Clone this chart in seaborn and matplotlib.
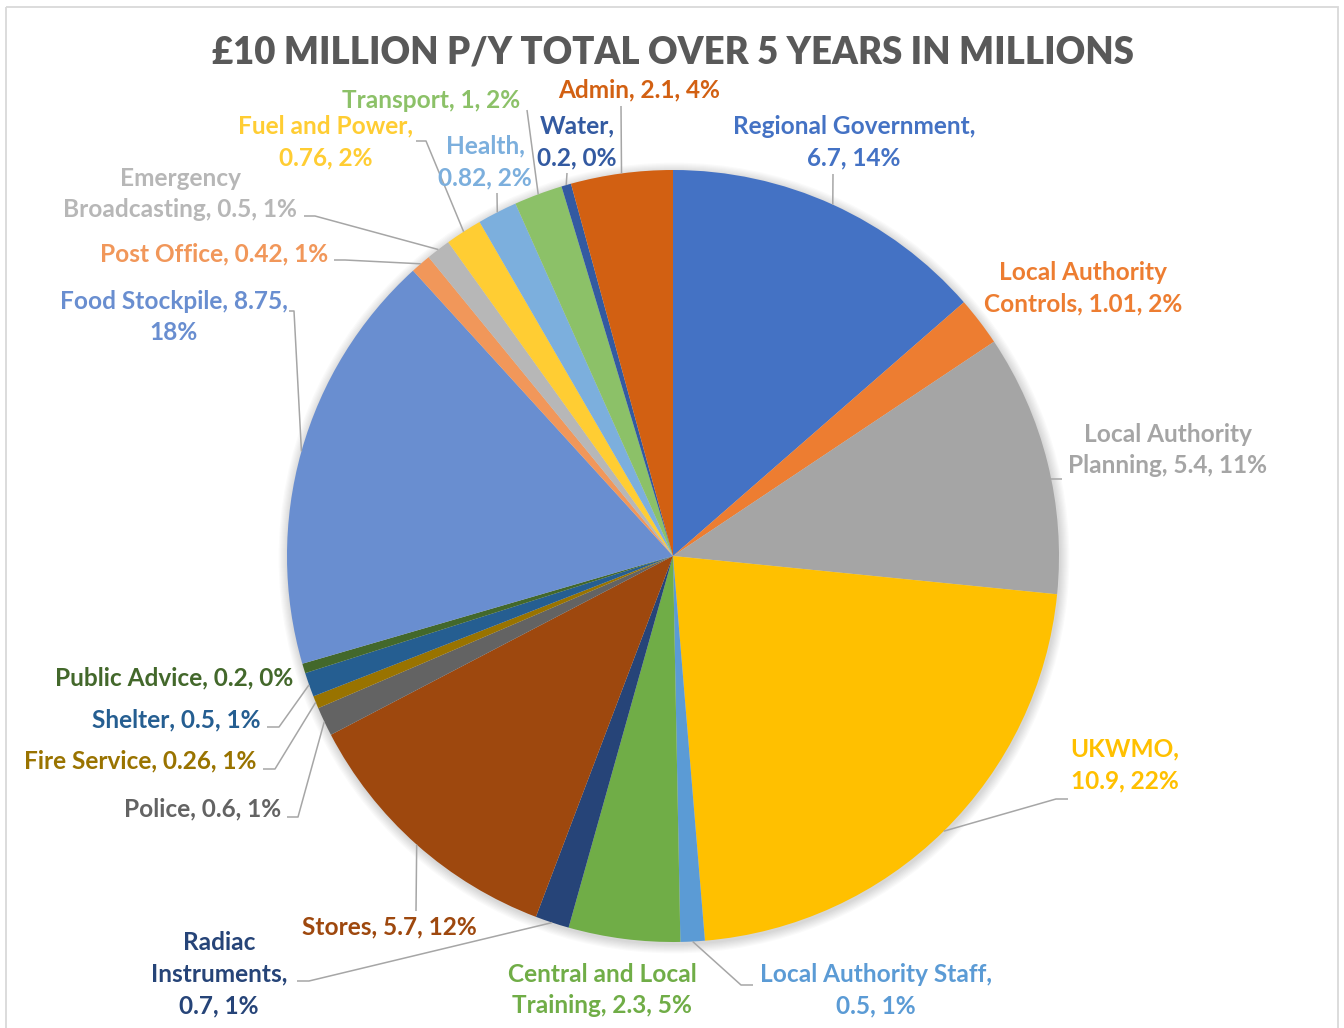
import numpy as np
import matplotlib
matplotlib.use("Agg")
import matplotlib.pyplot as plt
from matplotlib.patches import Circle, Rectangle
import seaborn as sns

# ---- data (millions, total over 5 years) ----
categories = [
    "Regional Government", "Local Authority Controls", "Local Authority Planning",
    "UKWMO", "Local Authority Staff", "Central and Local Training",
    "Radiac Instruments", "Stores", "Police", "Fire Service", "Shelter",
    "Public Advice", "Food Stockpile", "Post Office", "Emergency Broadcasting",
    "Fuel and Power", "Health", "Transport", "Water", "Admin",
]
values = [6.7, 1.01, 5.4, 10.9, 0.5, 2.3, 0.7, 5.7, 0.6, 0.26, 0.5,
          0.2, 8.75, 0.42, 0.5, 0.76, 0.82, 1, 0.2, 2.1]
slice_colors = [
    "#4472C4", "#ED7D31", "#A5A5A5", "#FFC000", "#5B9BD5", "#70AD47",
    "#264478", "#9E480E", "#636363", "#997300", "#255E91", "#43682B",
    "#698ED0", "#F1975A", "#B7B7B7", "#FFCD33", "#7CAFDD", "#8CC168",
    "#335AA1", "#D26012",
]
title = "£10 MILLION P/Y TOTAL OVER 5 YEARS IN MILLIONS"

# ---- label layout: (x, y, ha, word indices followed by a line break,
#      leader elbow points, whether the leader runs to the slice) ----
layout = {
    "Regional Government":        (854, 142, "center", [1], [(833, 174)], True),
    "Local Authority Controls":   (1083, 288, "center", [1], [], False),
    "Local Authority Planning":   (1168, 450, "center", [1], [(1062, 479), (1051, 479)], False),
    "UKWMO":                      (1125, 765, "center", [0], [(1068, 799), (1056, 799)], True),
    "Local Authority Staff":      (876, 990, "center", [2], [(753, 985), (741, 985)], True),
    "Central and Local Training": (602, 990, "center", [2], [], False),
    "Radiac Instruments":         (219, 974, "center", [0, 1], [(297, 981), (309, 981)], True),
    "Stores":                     (389, 927, "center", [], [(416, 911)], True),
    "Police":                     (281, 809, "right", [], [(287, 817), (298, 817)], True),
    "Fire Service":               (256, 761, "right", [], [(263, 769), (275, 769)], True),
    "Shelter":                    (261, 720, "right", [], [(267, 727), (279, 727)], True),
    "Public Advice":              (293, 678, "right", [], [], False),
    "Food Stockpile":             (174, 317, "center", [2], [(289, 311), (294, 311)], True),
    "Post Office":                (328, 254, "right", [], [(334, 260), (345, 260)], True),
    "Emergency Broadcasting":     (180, 194, "center", [0], [(304, 216), (315, 216)], True),
    "Fuel and Power":             (326, 142, "center", [2], [(416, 141), (426, 141)], True),
    "Health":                     (485, 162, "center", [0], [(497, 193)], True),
    "Transport":                  (431, 100, "center", [], [(527, 110)], True),
    "Water":                      (577, 142, "center", [0], [(567, 173)], True),
    "Admin":                      (639, 90, "center", [], [(621, 106)], True),
}

sns.set_theme(style="white")
plt.rcParams["font.family"] = ["Lato", "DejaVu Sans"]

W, H = 1344, 1028
fig = plt.figure(figsize=(W / 100, H / 100), dpi=100)
ax = fig.add_axes([0, 0, 1, 1])

center = (673, 556)
radius = 386

# soft shadow around the pie
for i in range(8):
    ax.add_patch(Circle((center[0] + 1, center[1] + 2), radius + 1 + i * 1.2,
                        facecolor="#000000", edgecolor="none", alpha=0.018, zorder=0))

palette = sns.color_palette(slice_colors)
wedges, _ = ax.pie(values, colors=palette, startangle=-90, counterclock=True,
                   center=center, radius=radius,
                   wedgeprops=dict(linewidth=0, edgecolor="white"))
for w in wedges:
    w.set_zorder(2)

ax.set_xlim(0, W)
ax.set_ylim(H, 0)
ax.set_aspect("equal")
ax.axis("off")

# figure frame
ax.add_patch(Rectangle((5.5, 6.5), 1332.5, 1030, facecolor="none",
                       edgecolor="#D9D9D9", linewidth=1.3, zorder=0))

ax.text(673, 52, title, ha="center", va="center", fontsize=26.3,
        fontweight="heavy", color="#595959")

total = sum(values)
for name, val, col, wedge in zip(categories, values, slice_colors, wedges):
    x, y, ha, breaks, elbow, to_slice = layout[name]
    pct = round(val / total * 100)
    words = f"{name}, {val:g}, {pct}%".split(" ")
    text = ""
    for i, wd in enumerate(words):
        text += wd
        if i < len(words) - 1:
            text += "\n" if i in breaks else " "
    ax.text(x, y, text, ha=ha, va="center", multialignment="center",
            fontsize=17.6, fontweight="bold", color=col, linespacing=1.47,
            zorder=5)
    pts = list(elbow)
    if to_slice:
        mid = np.deg2rad((wedge.theta1 + wedge.theta2) / 2)
        pts.append((center[0] + radius * np.cos(mid),
                    center[1] + radius * np.sin(mid)))
    if len(pts) >= 2:
        xs, ys = zip(*pts)
        ax.plot(xs, ys, color="#A6A6A6", linewidth=1.1, zorder=3,
                solid_capstyle="butt")

fig.savefig("out.png", dpi=100, facecolor="white")
